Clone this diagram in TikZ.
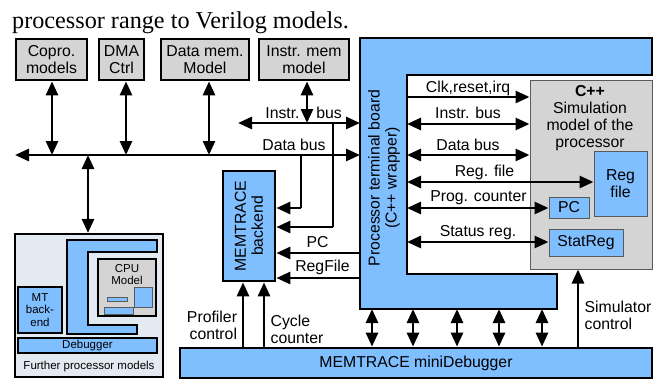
\documentclass[tikz,border=0pt]{standalone}
\usepackage{fontspec}
\setmainfont{Liberation Serif}
\setsansfont{Liberation Sans}
\usetikzlibrary{arrows.meta}
\definecolor{boxblue}{RGB}{128,191,255}
\definecolor{boxgray}{RGB}{212,212,212}
\definecolor{panelgray}{RGB}{228,234,242}
\definecolor{thinedge}{RGB}{90,90,90}
\tikzset{
  lbl/.style={font=\sffamily\fontsize{15.8}{17}\selectfont, inner sep=0pt, align=center},
  smalllbl/.style={font=\sffamily\fontsize{11.5}{12.5}\selectfont, inner sep=0pt, align=center},
  box/.style={draw=black, line width=2.8pt, inner sep=0pt, align=center,
    font=\sffamily\fontsize{15.8}{17}\selectfont},
  graybox/.style={box, fill=boxgray},
  bluebox/.style={box, fill=boxblue},
  thinbox/.style={draw=thinedge, line width=1pt, inner sep=0pt, align=center,
    font=\sffamily\fontsize{15.8}{17}\selectfont},
  smallbox/.style={draw=black, line width=2pt, inner sep=0pt, align=center,
    font=\sffamily\fontsize{11.5}{12.5}\selectfont},
  tip/.tip={Triangle[length=14pt,width=12pt]},
  one/.style={line width=2.8pt, -tip},
  dbl/.style={line width=2.8pt, tip-tip},
  wire/.style={line width=2.8pt},
}
\begin{document}
\begin{tikzpicture}[x=1pt,y=-1pt]
\useasboundingbox (0,0) rectangle (657,381);

% heading line of the surrounding text
\node[anchor=base west, inner sep=0pt, font=\fontsize{24.2}{26}\selectfont] (title) at (12,28)
  {processor range to Verilog models.};

% peripheral models
\node[graybox, minimum width=71pt, minimum height=41pt] (copro) at (51.5,59.5) {Copro.\\models};
\node[graybox, minimum width=45pt, minimum height=41pt] (dma) at (121.5,59.5) {DMA\\Ctrl};
\node[graybox, minimum width=88pt, minimum height=41pt] (datamem) at (205,59.5) {Data mem.\\Model};
\node[graybox, minimum width=90pt, minimum height=41pt] (instrmem) at (304,59.5) {Instr. mem\\model};

% processor terminal board (L-shaped wrapper)
\coordinate (tbNW) at (360,38);
\coordinate (tbNE) at (652,38);
\coordinate (tbIN) at (407,75);
\coordinate (tbSW) at (360,309);
\fill[boxblue] (360,38) -- (652,38) -- (652,75) -- (407,75) -- (407,274) -- (557,274)
  -- (557,309) -- (360,309) -- cycle;
\draw[line width=2.8pt, line join=miter] (360,38) -- (652,38) -- (652,75) -- (407,75) -- (407,274)
  -- (557,274) -- (557,309) -- (360,309) -- cycle;
\node[lbl, rotate=90] (tbtext) at (384,178) {Processor terminal board\\(C++ wrapper)};

% C++ simulation model
\node[thinbox, fill=boxgray, minimum width=122pt, minimum height=189pt] (sim) at (591,174.5) {};
\node[lbl, anchor=north] (simtext) at (590,85)
  {\textbf{C++}\\Simulation\\model of the\\processor};
\node[thinbox, fill=boxblue, minimum width=53pt, minimum height=65pt] (regfile) at (620.5,183.5) {Reg\\file};
\node[thinbox, fill=boxblue, minimum width=40pt, minimum height=21pt] (pcbox) at (569,207.5) {PC};
\node[thinbox, fill=boxblue, minimum width=74pt, minimum height=27pt] (statreg) at (586,242.5) {StatReg};

% MEMTRACE backend
\node[bluebox, minimum width=52pt, minimum height=110pt] (backend) at (249,226) {};
\node[lbl, rotate=90] (backendtext) at (backend.center) {MEMTRACE\\backend};

% MEMTRACE miniDebugger
\node[bluebox, minimum width=472pt, minimum height=30pt] (minidbg) at (416,363) {MEMTRACE miniDebugger};

% further processor models
\node[draw=black, line width=2.2pt, fill=panelgray, minimum width=148pt, minimum height=143pt] (further) at (89,305.5) {};
\node[smalllbl] (furthertext) at (89,367) {Further processor models};
\fill[boxblue] (67,240) -- (157,240) -- (157,252) -- (88,252) -- (88,325) -- (137,325) -- (137,334) -- (67,334) -- cycle;
\draw[line width=2pt] (67,240) -- (157,240) -- (157,252) -- (88,252) -- (88,325) -- (137,325) -- (137,334) -- (67,334) -- cycle;
\node[smallbox, fill=boxgray, minimum width=58pt, minimum height=57pt] (cpu) at (127,287.5) {};
\node[smalllbl, anchor=north] (cputext) at (127,264) {CPU\\Model};
\node[draw=thinedge, line width=0.8pt, fill=boxblue, minimum width=18pt, minimum height=20pt, inner sep=0pt] (cpureg) at (143,297) {};
\node[draw=thinedge, line width=0.8pt, fill=boxblue, minimum width=20pt, minimum height=4pt, inner sep=0pt] (cpupc) at (117,299) {};
\node[draw=thinedge, line width=0.8pt, fill=boxblue, minimum width=29pt, minimum height=7pt, inner sep=0pt] (cpusr) at (118.5,310.5) {};
\node[smallbox, fill=boxblue, minimum width=44pt, minimum height=46pt] (mtback) at (40,310) {MT\\back-\\end};
\node[smallbox, fill=boxblue, minimum width=139pt, minimum height=15pt] (debugger) at (87.5,345.5) {Debugger};

% system buses
\coordinate (dbL) at (15,155);
\coordinate (ibL) at (238,123);
\draw[dbl] (dbL) -- (dbL -| tbNW);
\draw[dbl] (ibL) -- (ibL -| tbNW);
\node[lbl] (dblabel) at (294,145) {Data bus};
\node[lbl] (iblabelA) at (282.5,113) {Instr.};
\node[lbl] (iblabelB) at (329,113) {bus};

% peripherals on the buses
\coordinate (tapCopro) at (52,155);
\coordinate (tapDma) at (126,155);
\coordinate (tapData) at (209,155);
\coordinate (tapInstr) at (307,123);
\coordinate (tapFurther) at (88,155);
\draw[dbl] (tapCopro) -- (tapCopro |- copro.south);
\draw[dbl] (tapDma) -- (tapDma |- dma.south);
\draw[dbl] (tapData) -- (tapData |- datamem.south);
\draw[dbl] (tapInstr) -- (tapInstr |- instrmem.south);
\draw[dbl] (tapFurther) -- (tapFurther |- further.north);

% trace taps into the backend
\coordinate (tapDtrace) at (301,155);
\coordinate (tapItrace) at (333,123);
\draw[wire] (tapDtrace) -- (301,208);
\draw[one] (301,208) -- (301,208 -| backend.east);
\draw[wire] (tapItrace) -- (333,227);
\draw[one] (333,227) -- (333,227 -| backend.east);
\coordinate (pcR) at (360,253);
\coordinate (rfR) at (360,278);
\draw[one] (pcR) -- (pcR -| backend.east);
\draw[one] (rfR) -- (rfR -| backend.east);
\node[lbl] (pclabel) at (317.5,242) {PC};
\node[lbl] (rflabel) at (322.5,267) {RegFile};

% wrapper to simulation model
\coordinate (clkL) at (407,97);
\coordinate (ib2L) at (407,124);
\coordinate (db2L) at (407,155);
\coordinate (rf2L) at (407,182);
\coordinate (pc2L) at (407,208);
\coordinate (sr2L) at (407,242);
\draw[one] (clkL) -- (clkL -| sim.west);
\draw[dbl] (ib2L) -- (ib2L -| sim.west);
\draw[dbl] (db2L) -- (db2L -| sim.west);
\draw[dbl] (rf2L) -- (rf2L -| regfile.west);
\draw[dbl] (pc2L) -- (pc2L -| pcbox.west);
\draw[dbl] (sr2L) -- (sr2L -| statreg.west);
\node[lbl] (clklabel) at (468,88) {Clk,reset,irq};
\node[lbl] (ib2label) at (468,113) {Instr. bus};
\node[lbl] (db2label) at (468,145) {Data bus};
\node[lbl] (rf2label) at (484.5,172) {Reg. file};
\node[lbl] (pc2label) at (478.5,198) {Prog. counter};
\node[lbl] (sr2label) at (478,233) {Status reg.};

% debugger links
\foreach \x [count=\i] in {372,413,457,499,542} {
  \coordinate (dl\i) at (\x,309);
  \draw[dbl] (dl\i) -- (dl\i |- minidbg.north);
}
\coordinate (profB) at (243,347);
\coordinate (cycB) at (264,347);
\draw[one] (profB) -- (profB |- backend.south);
\draw[one] (cycB) -- (cycB |- backend.south);
\node[lbl, align=right] (proflabel) at (212,325) {Profiler\\control};
\node[lbl, align=left] (cyclabel) at (297,329) {Cycle\\counter};
\coordinate (simB) at (578,347);
\draw[one] (simB) -- (simB |- sim.south);
\node[lbl, align=left] (simlabel) at (618,315) {Simulator\\control};
\end{tikzpicture}
\end{document}
